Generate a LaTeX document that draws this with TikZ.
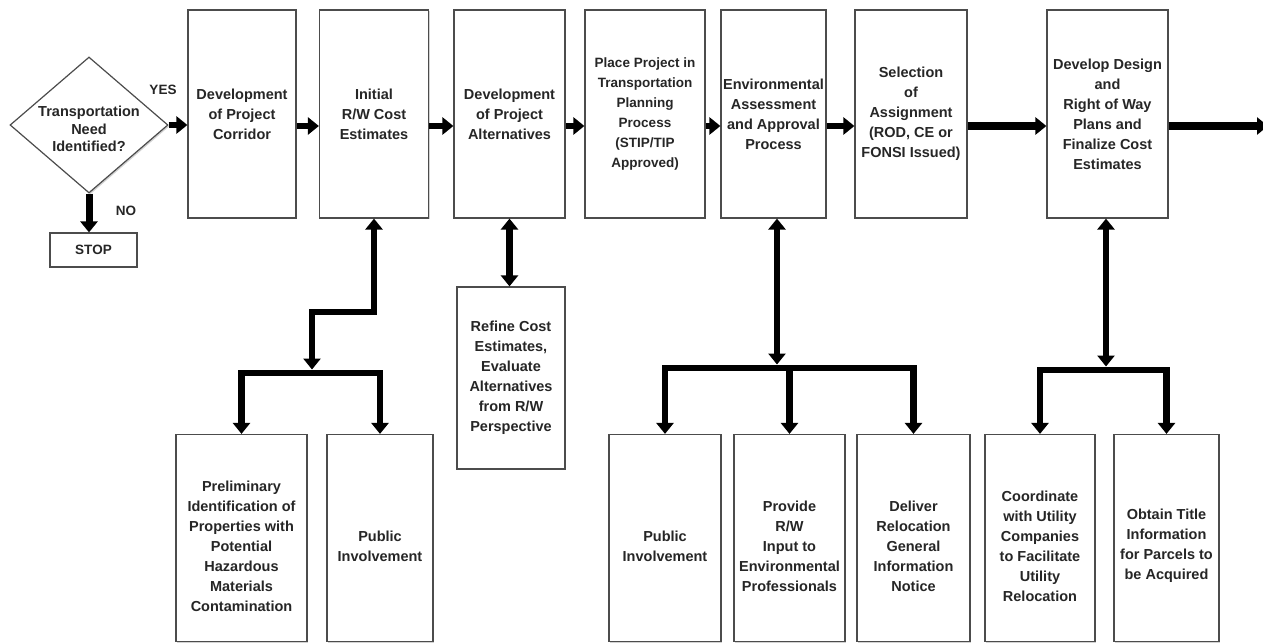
\documentclass[tikz,border=0pt]{standalone}
\usepackage{fontspec}
\setmainfont{Liberation Sans}
\usetikzlibrary{arrows.meta,shapes.geometric,shadows}

\begin{document}
\begin{tikzpicture}[x=1pt,y=-1pt,
  box/.style={rectangle, draw=black!70, line width=1.2pt, fill=white, inner sep=0pt,
    align=center, text=black!85, font=\bfseries\fontsize{14.5}{20}\selectfont,
    drop shadow={shadow xshift=1.4pt, shadow yshift=-1.4pt, opacity=0.35}},
  topbox/.style={box, minimum height=208pt},
  lowbox/.style={box, minimum height=207pt},
  lowtxt/.style={align=center, text=black!85, font=\bfseries\fontsize{14.5}{20}\selectfont, yshift=-8pt},
  tag/.style={text=black!85, font=\bfseries\fontsize{13.5}{16}\selectfont},
  flow/.style={line width=6.5pt, -{Triangle[width=17pt,length=11pt]}},
  twoway/.style={line width=6.5pt, {Triangle[width=17pt,length=11pt]}-{Triangle[width=17pt,length=11pt]}},
]
\fill[white] (0,0) rectangle (1263,643);
\useasboundingbox (0,0) rectangle (1263,643);

% decision and stop
\node[diamond, draw=black!70, line width=1.2pt, fill=white, inner sep=0pt,
  minimum width=158pt, minimum height=136pt,
  drop shadow={shadow xshift=1.4pt, shadow yshift=-1.4pt, opacity=0.35},
  label={[align=center, text=black!85, font=\bfseries\fontsize{14.5}{17.5}\selectfont, yshift=-4pt]center:Transportation\\Need\\Identified?}]
  (need) at (89,125) {};
\node[box, minimum width=87pt, minimum height=34pt, font=\bfseries\fontsize{13.5}{16}\selectfont] (stop) at (93.5,250) {STOP};
\node[tag] (yes) at (163,90) {YES};
\node[tag] (no) at (126,211) {NO};

% main sequence
\node[topbox, minimum width=108pt] (b1) at (242,114) {Development\\of Project\\Corridor};
\node[topbox, minimum width=109pt] (b2) at (374,114) {Initial\\R/W Cost\\Estimates};
\node[topbox, minimum width=111pt] (b3) at (509.5,114) {Development\\of Project\\Alternatives};
\node[topbox, minimum width=120pt, font=\bfseries\fontsize{13.5}{20}\selectfont] (b4) at (645,114)
  {Place Project in\\Transportation\\Planning\\Process\\(STIP/TIP\\Approved)};
\node[topbox, minimum width=105pt] (b5) at (773.5,114) {Environmental\\Assessment\\and Approval\\Process};
\node[topbox, minimum width=112pt] (b6) at (911,114) {Selection\\of\\Assignment\\(ROD, CE or\\FONSI Issued)};
\node[topbox, minimum width=121pt] (b7) at (1107.5,114) {Develop Design\\and\\Right of Way\\Plans and\\Finalize Cost\\Estimates};

% supporting tasks
\node[box, minimum width=108pt, minimum height=182pt] (refine) at (511,378)
  {Refine Cost\\Estimates,\\Evaluate\\Alternatives\\from R/W\\Perspective};
\node[lowbox, minimum width=131pt, label={[lowtxt]center:Preliminary\\Identification of\\Properties with\\Potential\\Hazardous\\Materials\\Contamination}] (p1) at (241.5,538) {};
\node[lowbox, minimum width=106pt, label={[lowtxt]center:Public\\Involvement}] (p2) at (380,538) {};
\node[lowbox, minimum width=112pt, label={[lowtxt]center:Public\\Involvement}] (q1) at (665,538) {};
\node[lowbox, minimum width=111pt, label={[lowtxt]center:Provide\\R/W\\Input to\\Environmental\\Professionals}] (q2) at (789.5,538) {};
\node[lowbox, minimum width=113pt, label={[lowtxt]center:Deliver\\Relocation\\General\\Information\\Notice}] (q3) at (913.5,538) {};
\node[lowbox, minimum width=110pt, label={[lowtxt]center:Coordinate\\with Utility\\Companies\\to Facilitate\\Utility\\Relocation}] (r1) at (1040,538) {};
\node[lowbox, minimum width=105pt, label={[lowtxt]center:Obtain Title\\Information\\for Parcels to\\be Acquired}] (r2) at (1166.5,538) {};

% horizontal flow
\coordinate (row) at (0,126);
\coordinate (exit) at (1268,126);
\draw[flow] (need.east) -- (b1.west |- need.east);
\draw[flow] (b1.east |- row) -- (b2.west |- row);
\draw[flow] (b2.east |- row) -- (b3.west |- row);
\draw[flow] (b3.east |- row) -- (b4.west |- row);
\draw[flow] (b4.east |- row) -- (b5.west |- row);
\draw[flow] (b5.east |- row) -- (b6.west |- row);
\draw[flow, line width=8pt] (b6.east |- row) -- (b7.west |- row);
\draw[flow, line width=8pt] (b7.east |- row) -- (exit);
\draw[flow, line width=7pt] (need.south) -- (need.south |- stop.north);

% branch under the cost estimates
\coordinate (lk) at (312,312);
\coordinate (lj) at (312,373);
\draw[twoway] (b2.south) |- (lk) -- ([yshift=3.5pt]lj);
\draw[flow] (lj) -| (p1.north);
\draw[flow] (lj) -| (p2.north);

% refine link
\draw[twoway] (b3.south) -- (b3.south |- refine.north);

% branch under the environmental process
\coordinate (mj) at (777,368);
\draw[twoway] (mj |- b5.south) -- ([yshift=3.5pt]mj);
\draw[flow] (mj) -| (q1.north);
\draw[flow] (mj) -| (q3.north);
\draw[flow] (q2.north |- mj) -- (q2.north);

% branch under the design plans
\coordinate (rj) at (1106,370);
\draw[twoway] (rj |- b7.south) -- ([yshift=3.5pt]rj);
\draw[flow] (rj) -| (r1.north);
\draw[flow] (rj) -| (r2.north);
\end{tikzpicture}
\end{document}
